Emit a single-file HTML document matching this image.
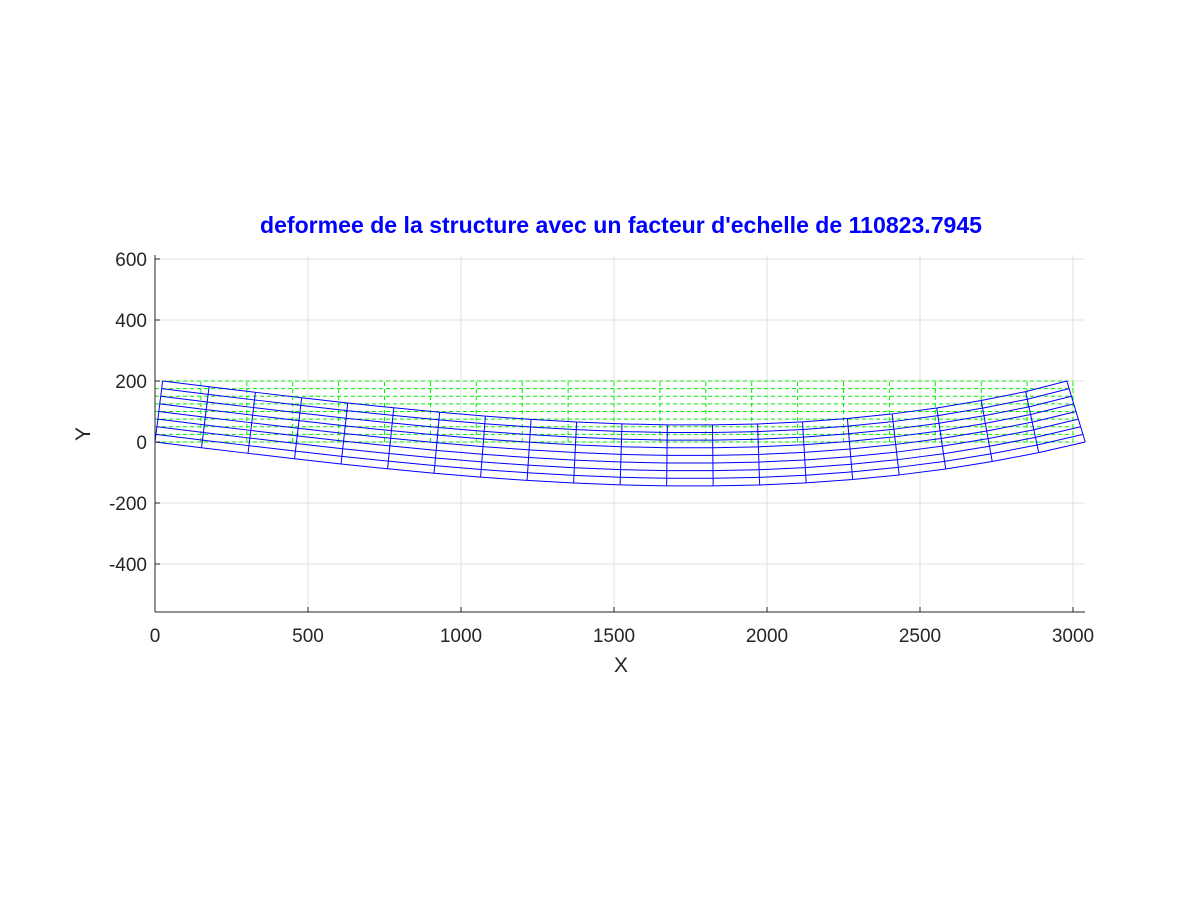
<!DOCTYPE html>
<html><head><meta charset="utf-8"><style>
body{margin:0;background:#fff;}
svg text{font-family:"Liberation Sans",sans-serif;}
</style></head><body>
<svg id="c" width="1200" height="900"></svg>
<script>
const xTicks=[0,500,1000,1500,2000,2500,3000];
const yTicks=[600,400,200,0,-200,-400];
const nodeX=[0,150,300,450,600,750,900,1050,1200,1350,1500,1650,1800,1950,2100,2250,2400,2550,2700,2850,3000];
const nodeY=[0,25,50,75,100,125,150,175,200];
const deflection=[0,-18.7,-37.1,-55.0,-72.0,-87.9,-102.4,-115.2,-126.0,-134.6,-140.6,-143.9,-144.0,-140.8,-133.9,-123.0,-108.0,-88.5,-64.1,-34.7,0];
const axialEnd=40;
const NS="http://www.w3.org/2000/svg";
const svg=document.getElementById('c');
const L=155,R=1085,T=255,B=612;
const X=v=>155+v*918/3000;
const Y=v=>442-v*0.305;
function mk(t,a,p){const e=document.createElementNS(NS,t);for(const k in a)e.setAttribute(k,a[k]);(p||svg).appendChild(e);return e;}
const grid=mk('g',{});


xTicks.forEach(t=>{mk('line',{x1:X(t),x2:X(t),y1:T,y2:B,stroke:'#e0e0e0'},grid);});
yTicks.forEach(t=>{mk('line',{x1:L,x2:R,y1:Y(t),y2:Y(t),stroke:'#e0e0e0'},grid);});
const und=mk('g',{stroke:'#00ee00','stroke-dasharray':'4,3','stroke-width':1,fill:'none'});


nodeY.forEach(y=>{mk('line',{x1:X(nodeX[0]),x2:X(nodeX[nodeX.length-1]),y1:Y(y),y2:Y(y)},und);});
nodeX.forEach(x=>{mk('line',{x1:X(x),x2:X(x),y1:Y(0),y2:Y(200)},und);});
const n=nodeX.length;
function slope(i){if(i==0)return (deflection[1]-deflection[0])/(nodeX[1]-nodeX[0])*1.0;if(i==n-1)return (deflection[n-1]-deflection[n-2])/(nodeX[n-1]-nodeX[n-2])*1.3;return (deflection[i+1]-deflection[i-1])/(nodeX[i+1]-nodeX[i-1]);}
function P(i,j){const y=nodeY[j];const s=slope(i);return [X(nodeX[i]-y*s+axialEnd*nodeX[i]/3000),Y(y+deflection[i])];}
const def=mk('g',{stroke:'#0000ff','stroke-width':1,fill:'none'});


for(let i=0;i<n;i++)for(let j=0;j<nodeY.length;j++){
 const a=P(i,j);
 if(i<n-1){const b=P(i+1,j);mk('line',{x1:a[0],y1:a[1],x2:b[0],y2:b[1]},def);}
 if(j<nodeY.length-1){const b=P(i,j+1);mk('line',{x1:a[0],y1:a[1],x2:b[0],y2:b[1]},def);}
}
const ax=mk('g',{stroke:'#262626',fill:'none'});


mk('line',{x1:L,x2:L,y1:T,y2:B},ax);mk('line',{x1:L,x2:R,y1:B,y2:B},ax);
xTicks.forEach(t=>{mk('line',{x1:X(t),x2:X(t),y1:B,y2:B-5},ax);
 const tx=mk('text',{x:X(t),y:B+30,'text-anchor':'middle','font-size':19,fill:'#262626',stroke:'none'});tx.textContent=t;
 
 });
yTicks.forEach(t=>{mk('line',{x1:L,x2:L+5,y1:Y(t),y2:Y(t)},ax);
 const tx=mk('text',{x:L-8,y:Y(t)+7,'text-anchor':'end','font-size':19,fill:'#262626',stroke:'none'});tx.textContent=t;
 
 });
const xl=mk('text',{x:621,y:672,'text-anchor':'middle','font-size':21,fill:'#262626'});xl.textContent='X';


const yl=mk('text',{x:90,y:434,'text-anchor':'middle','font-size':21,fill:'#262626',transform:'rotate(-90 90 434)'});yl.textContent='Y';


const ti=mk('text',{x:621,y:233,'text-anchor':'middle','font-size':23,'font-weight':'bold',fill:'#0000ff',textLength:722,lengthAdjust:'spacingAndGlyphs'});ti.textContent="deformee de la structure avec un facteur d'echelle de 110823.7945";


</script>
</body></html>
